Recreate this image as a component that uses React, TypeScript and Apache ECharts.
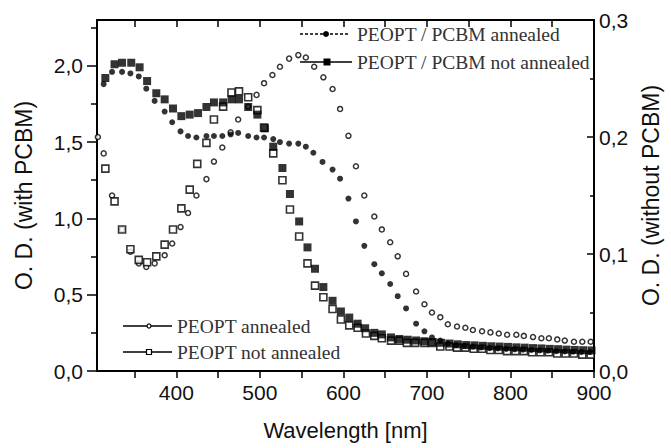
import React, { useEffect, useRef } from "react";
import * as echarts from "echarts";

// ---- data ----
const pcbmAnnealedX = [303, 313, 323, 335, 345, 355, 364, 374, 386, 395, 405, 414, 424, 436, 445, 455, 465, 474, 486, 496, 505, 516, 524, 535, 546, 555, 564, 575, 587, 596, 606, 615, 625, 637, 646, 656, 665, 675, 687, 697, 706, 716, 725, 735, 745, 755, 765, 775, 785, 795, 805, 815, 825, 835, 845, 855, 865, 875, 885, 895];
const pcbmAnnealedY = [1.72, 1.88, 1.96, 1.96, 1.95, 1.93, 1.85, 1.77, 1.70, 1.63, 1.57, 1.54, 1.53, 1.54, 1.54, 1.54, 1.55, 1.56, 1.54, 1.53, 1.53, 1.52, 1.50, 1.49, 1.49, 1.47, 1.43, 1.37, 1.32, 1.26, 1.13, 0.98, 0.82, 0.70, 0.64, 0.57, 0.49, 0.41, 0.31, 0.26, 0.22, 0.20, 0.18, 0.17, 0.165, 0.16, 0.155, 0.15, 0.148, 0.145, 0.142, 0.14, 0.138, 0.135, 0.133, 0.13, 0.128, 0.126, 0.125, 0.124];

const pcbmNotAnnealedX = [304, 315, 326, 335, 346, 356, 365, 376, 386, 396, 406, 416, 426, 436, 445, 456, 466, 475, 486, 497, 506, 516, 527, 536, 547, 557, 566, 576, 587, 597, 607, 617, 626, 637, 646, 657, 667, 677, 687, 697, 707, 717, 727, 737, 747, 757, 767, 777, 787, 797, 807, 817, 827, 837, 847, 857, 867, 877, 887, 897];
const pcbmNotAnnealedY = [1.86, 1.92, 2.01, 2.02, 2.02, 1.99, 1.90, 1.82, 1.78, 1.72, 1.67, 1.68, 1.69, 1.73, 1.76, 1.76, 1.78, 1.78, 1.73, 1.68, 1.59, 1.47, 1.33, 1.16, 0.98, 0.81, 0.67, 0.55, 0.46, 0.39, 0.35, 0.31, 0.28, 0.25, 0.24, 0.22, 0.21, 0.205, 0.20, 0.195, 0.19, 0.185, 0.18, 0.175, 0.17, 0.168, 0.165, 0.162, 0.16, 0.158, 0.155, 0.153, 0.15, 0.148, 0.145, 0.143, 0.14, 0.138, 0.136, 0.135];

const peoptAnnealedX = [306, 313, 323, 335, 345, 355, 364, 374, 386, 395, 405, 414, 424, 436, 445, 455, 465, 474, 486, 496, 505, 515, 524, 535, 546, 555, 565, 576, 587, 596, 606, 615, 625, 637, 646, 656, 665, 675, 687, 697, 706, 716, 725, 736, 746, 755, 766, 776, 786, 796, 807, 816, 827, 837, 846, 856, 865, 876, 886, 896];
const peoptAnnealedY = [0.200, 0.186, 0.150, 0.121, 0.102, 0.092, 0.089, 0.092, 0.099, 0.109, 0.123, 0.135, 0.150, 0.164, 0.179, 0.191, 0.204, 0.215, 0.226, 0.236, 0.246, 0.253, 0.260, 0.267, 0.270, 0.268, 0.260, 0.251, 0.241, 0.224, 0.201, 0.175, 0.150, 0.132, 0.121, 0.110, 0.098, 0.083, 0.068, 0.057, 0.050, 0.046, 0.040, 0.038, 0.037, 0.035, 0.034, 0.033, 0.032, 0.031, 0.031, 0.030, 0.029, 0.028, 0.028, 0.027, 0.026, 0.025, 0.025, 0.025];

const peoptNotAnnealedX = [303, 315, 326, 335, 345, 355, 365, 376, 386, 396, 406, 416, 425, 436, 445, 456, 466, 475, 486, 497, 505, 516, 527, 536, 547, 557, 566, 576, 587, 597, 607, 617, 627, 637, 646, 657, 667, 676, 686, 697, 706, 716, 727, 736, 746, 756, 766, 776, 786, 796, 806, 816, 826, 836, 846, 856, 866, 876, 886, 896];
const peoptNotAnnealedY = [0.175, 0.173, 0.145, 0.121, 0.104, 0.095, 0.093, 0.098, 0.108, 0.121, 0.139, 0.155, 0.177, 0.195, 0.215, 0.226, 0.238, 0.239, 0.234, 0.223, 0.208, 0.186, 0.163, 0.138, 0.115, 0.092, 0.073, 0.063, 0.053, 0.044, 0.039, 0.037, 0.032, 0.030, 0.028, 0.026, 0.026, 0.024, 0.024, 0.024, 0.024, 0.021, 0.021, 0.020, 0.020, 0.019, 0.019, 0.018, 0.018, 0.017, 0.017, 0.017, 0.016, 0.016, 0.016, 0.015, 0.015, 0.015, 0.014, 0.014];

const xLabels = [400, 500, 600, 700, 800, 900];
const xTicks = [350, 400, 450, 500, 550, 600, 650, 700, 750, 800, 850, 900];
const leftLabels = [0, 0.5, 1.0, 1.5, 2.0];
const leftMinorTicks = [0.25, 0.75, 1.25, 1.75, 2.25];
const rightLabels = [0, 0.1, 0.2, 0.3];
const rightMinorTicks = [0.05, 0.15, 0.25];

const names = [
  "PEOPT / PCBM annealed",
  "PEOPT / PCBM not annealed",
  "PEOPT annealed",
  "PEOPT not annealed",
];

const zip = (xs: number[], ys: number[]) => xs.map((x, i) => [x, ys[i]]);

const SANS = '"Liberation Sans", Arial, sans-serif';
const SERIF = '"Liberation Serif", "Times New Roman", serif';
const comma = (v: number) => v.toFixed(1).replace(".", ",");

export default function App() {
  const ref = useRef<HTMLDivElement>(null);
  useEffect(() => {
    if (!ref.current) return;
    const chart = echarts.init(ref.current, undefined, { renderer: "svg" });
    const axisLine = { show: true, onZero: false, lineStyle: { color: "#000", width: 2 } };
    const xCommon = { type: "value", min: 305, max: 900, splitLine: { show: false } };
    const option: any = {
      animation: false,
      backgroundColor: "#fff",
      grid: { left: 97, right: 77, top: 20, bottom: 77, containLabel: false },
      xAxis: [
        {
          ...xCommon,
          position: "bottom",
          axisLine,
          axisTick: { show: true, inside: false, length: 7, customValues: xTicks, lineStyle: { color: "#000", width: 1.5 } },
          axisLabel: { customValues: xLabels, fontSize: 21, color: "#111", fontFamily: SANS, margin: 11 },
          name: "Wavelength [nm]",
          nameLocation: "middle",
          nameGap: 48,
          nameTextStyle: { fontSize: 22, color: "#111", fontFamily: SANS },
        },
        {
          ...xCommon,
          position: "top",
          axisLine,
          axisTick: { show: true, inside: true, length: 7, customValues: xTicks, lineStyle: { color: "#000", width: 1.5 } },
          axisLabel: { show: false },
        },
      ],
      yAxis: [
        {
          type: "value", min: 0, max: 2.3, position: "left",
          splitLine: { show: false }, axisLine,
          axisTick: { show: true, inside: false, length: 10, customValues: leftLabels, lineStyle: { color: "#000", width: 1.5 } },
          axisLabel: { customValues: leftLabels, formatter: comma, fontSize: 21, color: "#111", fontFamily: SANS, margin: 14 },
          name: "O. D. (with PCBM)", nameLocation: "middle", nameRotate: 90, nameGap: 62,
          nameTextStyle: { fontSize: 23, color: "#111", fontFamily: SANS },
        },
        {
          type: "value", min: 0, max: 0.3, position: "right",
          splitLine: { show: false }, axisLine,
          axisTick: { show: true, inside: true, length: 7, customValues: rightLabels, lineStyle: { color: "#000", width: 1.5 } },
          axisLabel: { customValues: rightLabels, formatter: comma, fontSize: 21, color: "#111", fontFamily: SANS, margin: 5 },
          name: "O. D. (without PCBM)", nameLocation: "middle", nameRotate: 90, nameGap: 44,
          nameTextStyle: { fontSize: 23, color: "#111", fontFamily: SANS },
        },
        {
          type: "value", min: 0, max: 2.3, position: "left",
          splitLine: { show: false }, axisLine: { show: false },
          axisTick: { show: true, inside: false, length: 6, customValues: leftMinorTicks, lineStyle: { color: "#000", width: 1.5 } },
          axisLabel: { show: false },
        },
        {
          type: "value", min: 0, max: 0.3, position: "right",
          splitLine: { show: false }, axisLine: { show: false },
          axisTick: { show: true, inside: true, length: 4, customValues: rightMinorTicks, lineStyle: { color: "#000", width: 1.5 } },
          axisLabel: { show: false },
        },
      ],
      series: [
        {
          name: names[2], type: "scatter", xAxisIndex: 0, yAxisIndex: 1,
          data: zip(peoptAnnealedX, peoptAnnealedY),
          symbol: "circle", symbolSize: 5,
          itemStyle: { color: "#fff", borderColor: "#000", borderWidth: 1.5 },
        },
        {
          name: names[3], type: "scatter", xAxisIndex: 0, yAxisIndex: 1,
          data: zip(peoptNotAnnealedX, peoptNotAnnealedY),
          symbol: "rect", symbolSize: 7,
          itemStyle: { color: "#fff", borderColor: "#000", borderWidth: 1.6 },
        },
        {
          name: names[0], type: "scatter", xAxisIndex: 0, yAxisIndex: 0,
          data: zip(pcbmAnnealedX, pcbmAnnealedY),
          symbol: "circle", symbolSize: 6,
          itemStyle: { color: "#000" },
        },
        {
          name: names[1], type: "scatter", xAxisIndex: 0, yAxisIndex: 0,
          data: zip(pcbmNotAnnealedX, pcbmNotAnnealedY),
          symbol: "rect", symbolSize: 8,
          itemStyle: { color: "#000" },
        },
      ],
      graphic: [
        { type: "line", shape: { x1: 300, y1: 34, x2: 350, y2: 34 }, style: { stroke: "#000", lineWidth: 1.5, lineDash: [3, 2] }, z: 10 },
        { type: "circle", shape: { cx: 326, cy: 34, r: 3 }, style: { fill: "#000" }, z: 11 },
        { type: "text", x: 357, y: 34, style: { text: names[0], font: `19.5px ${SERIF}`, fill: "#333", verticalAlign: "middle" }, z: 11 },
        { type: "line", shape: { x1: 300, y1: 62, x2: 352, y2: 62 }, style: { stroke: "#000", lineWidth: 1.5 }, z: 10 },
        { type: "rect", shape: { x: 323.5, y: 58.5, width: 7, height: 7 }, style: { fill: "#000" }, z: 11 },
        { type: "text", x: 357, y: 62, style: { text: names[1], font: `19.5px ${SERIF}`, fill: "#333", verticalAlign: "middle" }, z: 11 },
        { type: "line", shape: { x1: 123, y1: 326, x2: 172, y2: 326 }, style: { stroke: "#000", lineWidth: 1.5 }, z: 10 },
        { type: "circle", shape: { cx: 149, cy: 326, r: 2 }, style: { fill: "#fff", stroke: "#000", lineWidth: 1.2 }, z: 11 },
        { type: "text", x: 177, y: 326, style: { text: names[2], font: `19.5px ${SERIF}`, fill: "#333", verticalAlign: "middle" }, z: 11 },
        { type: "line", shape: { x1: 123, y1: 352, x2: 172, y2: 352 }, style: { stroke: "#000", lineWidth: 1.5 }, z: 10 },
        { type: "rect", shape: { x: 146.5, y: 349.5, width: 5, height: 5 }, style: { fill: "#fff", stroke: "#000", lineWidth: 1.2 }, z: 11 },
        { type: "text", x: 177, y: 352, style: { text: names[3], font: `19.5px ${SERIF}`, fill: "#333", verticalAlign: "middle" }, z: 11 },
      ],
    };
    chart.setOption(option);
    return () => chart.dispose();
  }, []);
  return <div ref={ref} style={{ width: 671, height: 448, position: "absolute", left: 0, top: 0 }} />;
}
